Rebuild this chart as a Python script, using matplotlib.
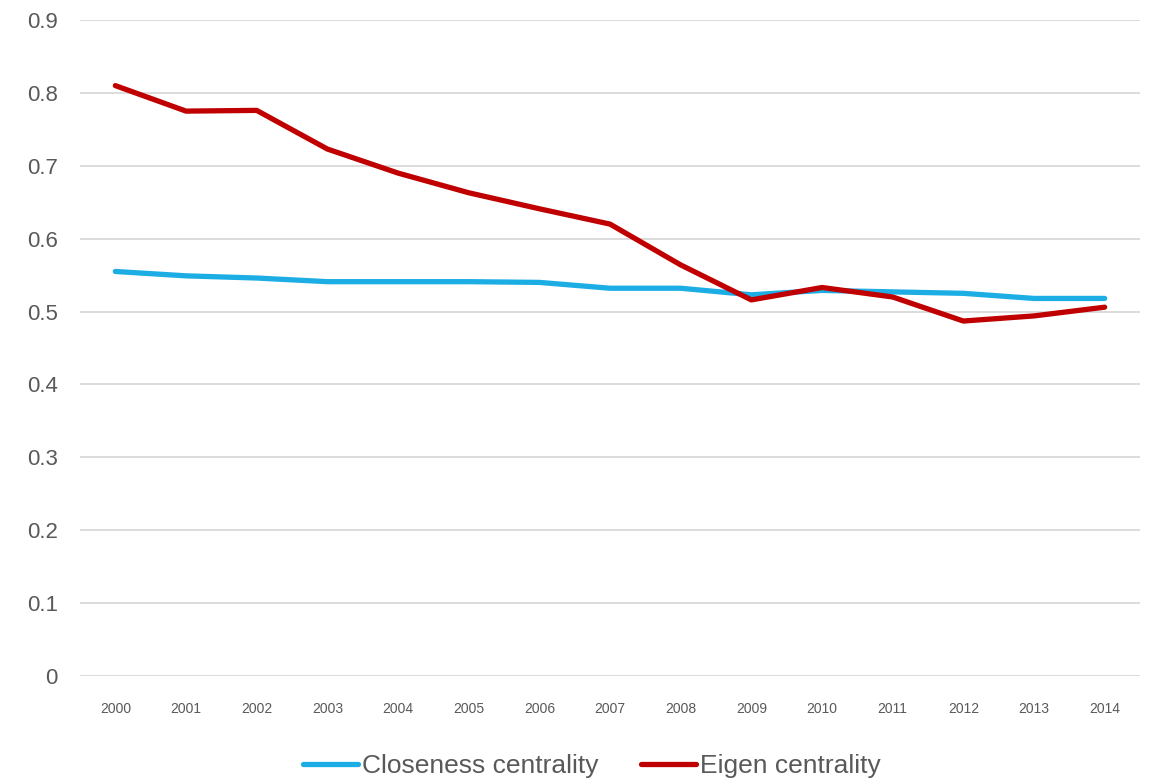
import matplotlib.pyplot as plt

years = [str(y) for y in range(2000, 2015)]
closeness = [0.555, 0.549, 0.546, 0.541, 0.541, 0.541, 0.540, 0.532,
             0.532, 0.523, 0.529, 0.527, 0.525, 0.518, 0.518]
eigen = [0.810, 0.775, 0.776, 0.723, 0.690, 0.663, 0.641, 0.620,
         0.564, 0.516, 0.533, 0.520, 0.487, 0.494, 0.506]
y_ticks = [0, 0.1, 0.2, 0.3, 0.4, 0.5, 0.6, 0.7, 0.8, 0.9]
y_labels = ['0', '0.1', '0.2', '0.3', '0.4', '0.5', '0.6', '0.7', '0.8', '0.9']

plt.rcParams['font.family'] = ['Liberation Sans', 'DejaVu Sans']

fig = plt.figure(figsize=(11.5, 7.82), dpi=100)
ax = fig.add_axes([80 / 1150, 1 - 676 / 782, 1060 / 1150, 656 / 782])

x = range(len(years))
ax.plot(x, closeness, color='#1CADE4', lw=3.8, solid_capstyle='round',
        solid_joinstyle='round', label='Closeness centrality')
ax.plot(x, eigen, color='#C00000', lw=3.8, solid_capstyle='round',
        solid_joinstyle='round', label='Eigen centrality')

ax.set_xlim(-0.5, len(years) - 0.5)
ax.set_ylim(0, 0.9)
ax.set_yticks(y_ticks)
ax.set_yticklabels(y_labels, fontsize=16, color='#595959')
ax.set_xticks(list(x))
ax.set_xticklabels(years, fontsize=10, color='#595959')
ax.tick_params(axis='both', length=0)
ax.tick_params(axis='y', pad=16)
ax.tick_params(axis='x', pad=19)
ax.grid(axis='y', color='#d9d9d9', lw=1.3)
ax.set_axisbelow(True)
for s in ax.spines.values():
    s.set_visible(False)

fig.legend(loc='center', bbox_to_anchor=(592 / 1150, 1 - 766 / 782), ncol=2,
           frameon=False, fontsize=19, handlelength=2.1, columnspacing=1.6,
           handletextpad=0.15, labelcolor='#595959')

fig.savefig('out.png', dpi=100)
